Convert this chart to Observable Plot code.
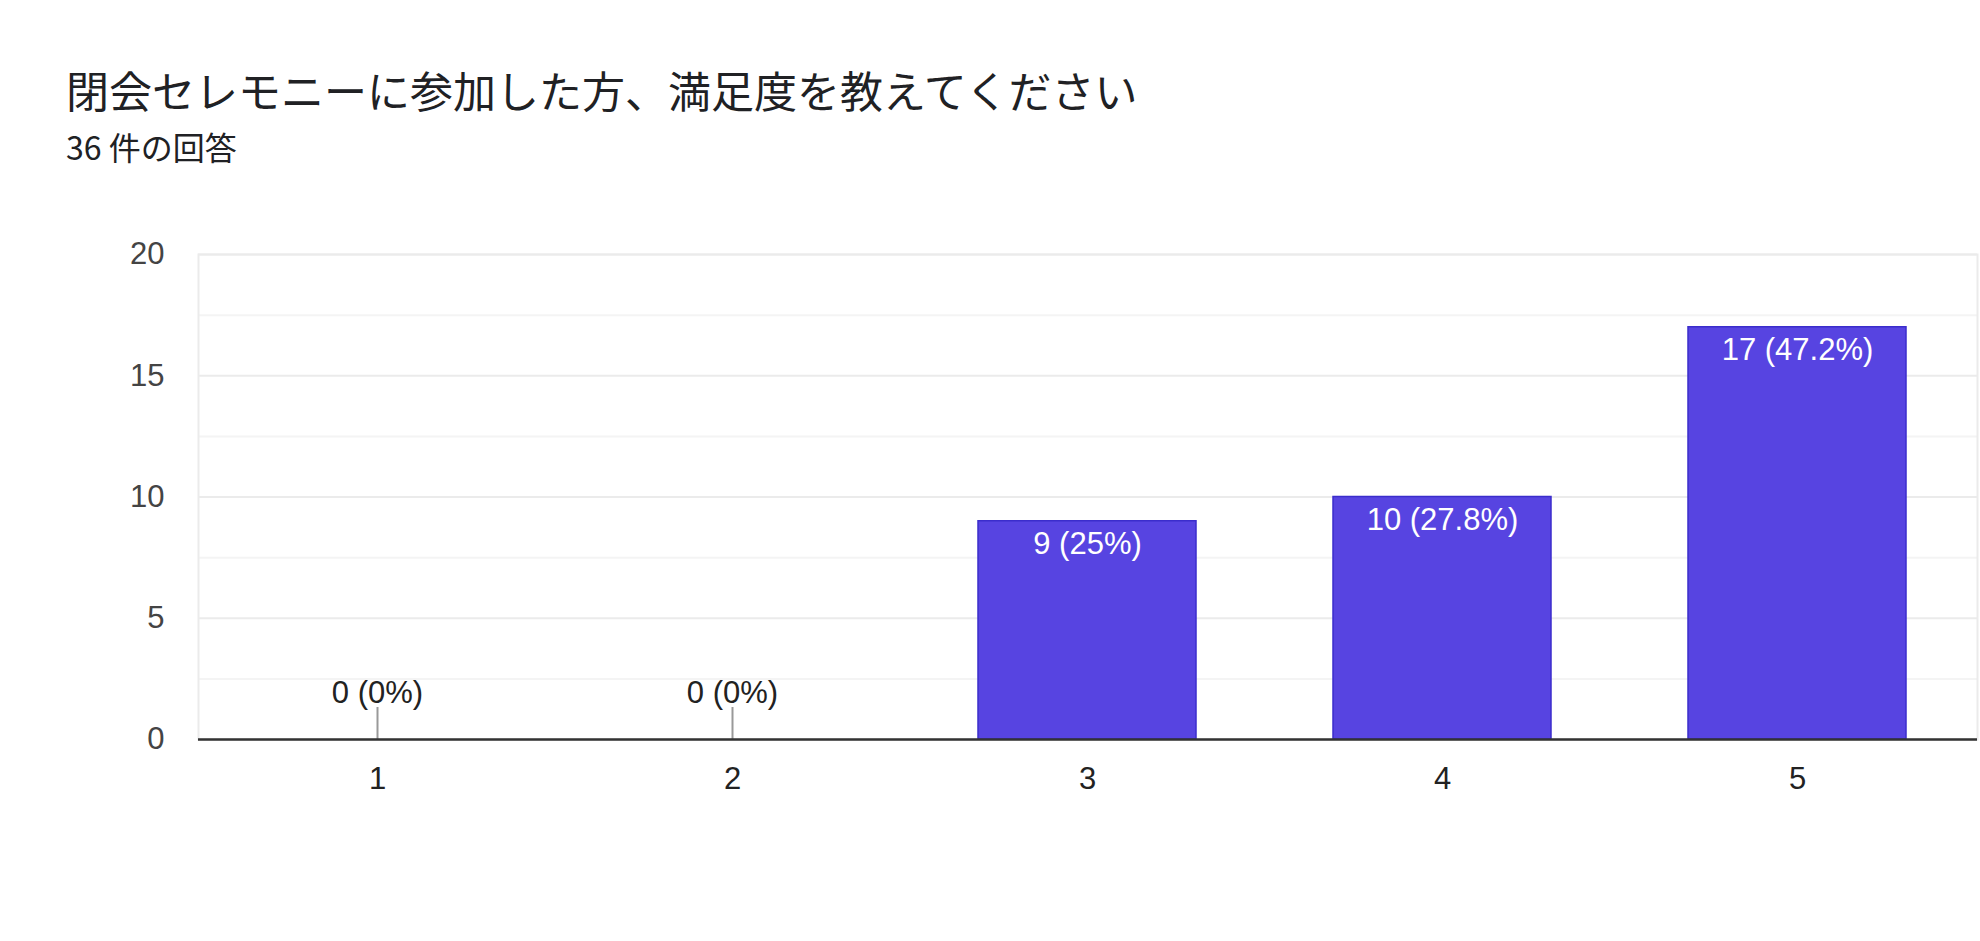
<!DOCTYPE html>
<html>
<head>
<meta charset="utf-8">
<script src="https://cdn.jsdelivr.net/npm/d3@7"></script>
<script src="https://cdn.jsdelivr.net/npm/@observablehq/plot@0.6"></script>
<style>
  html, body { margin: 0; padding: 0; background: #fff; }
  #header { position: relative; width: 1980px; height: 200px; }
  #title { position: absolute; left: 66px; top: 68px; font-family: "Noto Sans CJK JP", sans-serif; font-size: 43px; line-height: 43px; color: #202124; white-space: nowrap; }
  #subtitle { position: absolute; left: 66px; top: 130px; font-family: "Noto Sans CJK JP", sans-serif; font-size: 32px; line-height: 32px; color: #202124; white-space: nowrap; }
  #chart svg { display: block; }
</style>
</head>
<body>
<div id="header">
  <div id="title">閉会セレモニーに参加した方、満足度を教えてください</div>
  <div id="subtitle">36 件の回答</div>
</div>
<div id="chart"></div>
<script>
const categories = ["1", "2", "3", "4", "5"];
const counts = [0, 0, 9, 10, 17];
const valueLabels = ["0 (0%)", "0 (0%)", "9 (25%)", "10 (27.8%)", "17 (47.2%)"];
const yTicks = [0, 5, 10, 15, 20];
const yMinorTicks = [2.5, 7.5, 12.5, 17.5];

const rows = categories.map((c, i) => ({cat: c, count: counts[i], label: valueLabels[i]}));
const nonzero = rows.filter(d => d.count > 0);
const zeros = rows.filter(d => d.count === 0);

const chart = Plot.plot({
  width: 1980,
  height: 741,
  marginTop: 54,
  marginBottom: 202,
  marginLeft: 198,
  marginRight: 3,
  style: {fontFamily: "'Liberation Sans', Arial, sans-serif", fontSize: "31px", color: "#222", background: "white"},
  x: {domain: categories, paddingInner: 0.385, paddingOuter: 0.1925, label: null},
  y: {domain: [0, 20], label: null},
  marks: [
    Plot.ruleY(yMinorTicks, {stroke: "#f4f4f4", strokeWidth: 2}),
    Plot.ruleY(yTicks, {stroke: "#ebebeb", strokeWidth: 2}),
    Plot.frame({stroke: "#ebebeb", strokeWidth: 2}),
    Plot.barY(nonzero, {x: "cat", y: "count", fill: "#5744e1", stroke: "#3b2dcc", strokeWidth: 1.5}),
    Plot.ruleX(zeros, {x: "cat", y1: 0, y2: 0, insetTop: -32, stroke: "#999", strokeWidth: 2}),
    Plot.ruleY([0], {stroke: "#333", strokeWidth: 2.5}),
    Plot.text(nonzero, {x: "cat", y: "count", text: "label", dy: 23, fill: "white", fontSize: 31}),
    Plot.text(zeros, {x: "cat", y: "count", text: "label", dy: -46, fill: "#222", fontSize: 31}),
    Plot.axisY(yTicks, {tickSize: 0, tickPadding: 34, label: null, fill: "#444", fontSize: 31}),
    Plot.axisX({tickSize: 0, tickPadding: 27, label: null, fill: "#222", fontSize: 31})
  ]
});
document.getElementById("chart").appendChild(chart);
</script>
</body>
</html>
